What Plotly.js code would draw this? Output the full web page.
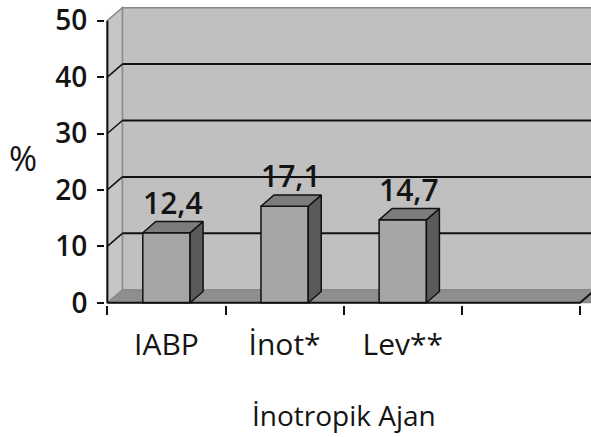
<!DOCTYPE html>
<html>
<head>
<meta charset="utf-8">
<script src="https://cdn.plot.ly/plotly-3.0.1.min.js"></script>
<style>html,body{margin:0;padding:0;background:#fff;}#chart{width:591px;height:437px;}</style>
</head>
<body>
<div id="chart"></div>
<script>
// ---- data ----
const categories = ["IABP", "İnot*", "Lev**"];
const values = [12.4, 17.1, 14.7];
const yTicks = [0, 10, 20, 30, 40, 50];
const xTitle = "İnotropik Ajan";
const yTitle = "%";
const emptySlots = 1;

// ---- geometry / style ----
const nSlots = categories.length + emptySlots;
const xMin = -0.5, xMax = nSlots - 0.5;
const yTop = yTicks[yTicks.length - 1];
const barW = 0.40, barDX = 0.11, barDY = 2.0;
const wallDX = 0.127, wallDY = 2.3;
const FONT = "Open Sans, Noto Sans, sans-serif";
const INK = "#141414";

const xs = categories.map((_, i) => i);
const boundaries = Array.from({length: nSlots + 1}, (_, i) => i - 0.5);

const shapes = [];
const P = pts => "M" + pts.map(p => p[0] + "," + p[1]).join(" L") + " Z";
// floor
shapes.push({type: "path", layer: "below", xref: "x", yref: "y",
  path: P([[xMin, 0], [xMax + 1, 0], [xMax + 1 + wallDX, wallDY], [xMin + wallDX, wallDY]]),
  fillcolor: "#8e8e8e", line: {color: "#7a7a7a", width: 1}});
// back wall
shapes.push({type: "path", layer: "below", xref: "x", yref: "y",
  path: P([[xMin + wallDX, wallDY], [xMax + 1, wallDY], [xMax + 1, yTop + wallDY], [xMin + wallDX, yTop + wallDY]]),
  fillcolor: "#c0c0c0", line: {color: "#8a8a8a", width: 1.5}});
// left wall
shapes.push({type: "path", layer: "below", xref: "x", yref: "y",
  path: P([[xMin, 0], [xMin + wallDX, wallDY], [xMin + wallDX, yTop + wallDY], [xMin, yTop]]),
  fillcolor: "#c6c6c6", line: {color: "#8a8a8a", width: 1.5}});
// gridlines
yTicks.forEach(v => {
  if (v === 0 || v === yTop) return;
  shapes.push({type: "line", layer: "below", xref: "x", yref: "y",
    x0: xMin + wallDX, x1: xMax + 1, y0: v + wallDY, y1: v + wallDY,
    line: {color: "#111", width: 2}});
  shapes.push({type: "line", layer: "below", xref: "x", yref: "y",
    x0: xMin, x1: xMin + wallDX, y0: v, y1: v + wallDY,
    line: {color: "#111", width: 1.5}});
});

const traces = [];
// front faces
traces.push({type: "bar", x: xs, y: values, width: barW,
  marker: {color: "#a6a6a6", line: {color: "#111", width: 1.5}},
  hoverinfo: "skip", showlegend: false});
// side and top faces
xs.forEach((x, i) => {
  const v = values[i], r = x + barW / 2, l = x - barW / 2;
  traces.push({type: "scatter", mode: "lines", fill: "toself", fillcolor: "#5a5a5a",
    x: [r, r + barDX, r + barDX, r, r], y: [0, barDY, v + barDY, v, 0],
    line: {color: "#111", width: 1.5}, hoverinfo: "skip", showlegend: false});
  traces.push({type: "scatter", mode: "lines", fill: "toself", fillcolor: "#7c7c7c",
    x: [l, r, r + barDX, l + barDX, l], y: [v, v, v + barDY, v + barDY, v],
    line: {color: "#111", width: 1.5}, hoverinfo: "skip", showlegend: false});
});
// axis lines
traces.push({type: "scatter", mode: "lines", x: [xMin, xMin], y: [0, yTop],
  line: {color: "#111", width: 2}, hoverinfo: "skip", showlegend: false});
traces.push({type: "scatter", mode: "lines", x: [xMin, xMax, xMax + wallDX], y: [0, 0, wallDY],
  line: {color: "#111", width: 2}, hoverinfo: "skip", showlegend: false});

const annotations = xs.map((x, i) => ({
  xref: "x", yref: "y", x: x + barDX / 2, y: values[i] + barDY,
  text: values[i].toFixed(1).replace(".", ","), showarrow: false,
  yanchor: "bottom", xanchor: "center", yshift: -3,
  font: {family: FONT, size: 30, color: INK, weight: 600}
}));
annotations.push({xref: "x", yref: "paper", x: (xMin + xMax) / 2, y: 0, yanchor: "middle",
  yshift: -110, text: xTitle, showarrow: false,
  font: {family: FONT, size: 28, color: INK}});
annotations.push({xref: "paper", yref: "paper", x: -0.169, y: 0.492, xanchor: "center", yanchor: "middle",
  text: yTitle, showarrow: false, font: {family: FONT, size: 34, color: INK}});

const layout = {
  width: 591, height: 437,
  margin: {l: 105, r: 0, t: 6, b: 132, pad: 0},
  paper_bgcolor: "#fff", plot_bgcolor: "rgba(0,0,0,0)",
  showlegend: false,
  xaxis: {range: [-0.52, 3.593], tickvals: xs, ticktext: categories, ticks: "",
    showgrid: false, zeroline: false, showline: false, ticklabelstandoff: 19,
    tickfont: {family: FONT, size: 30, color: INK},
    minor: {tickvals: boundaries, ticks: "outside", ticklen: 9, tickwidth: 2, tickcolor: "#111", showgrid: false}},
  yaxis: {range: [-0.4, 52.6], tickvals: yTicks, ticks: "outside", ticklen: 7, tickwidth: 2,
    tickcolor: "#111", showgrid: false, zeroline: false, showline: false, ticklabelstandoff: 4,
    tickfont: {family: FONT, size: 28, color: INK, weight: 600}},
  shapes: shapes,
  annotations: annotations
};

Plotly.newPlot("chart", traces, layout, {displayModeBar: false, staticPlot: true});
</script>
</body>
</html>
